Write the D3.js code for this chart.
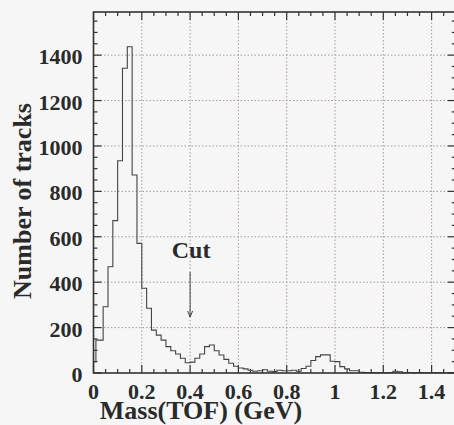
<!DOCTYPE html>
<html>
<head>
<meta charset="utf-8">
<script src="https://cdn.jsdelivr.net/npm/d3@7"></script>
<style>
  body { margin: 0; background: #f6f6f6; }
  svg { display: block; }
  text { font-family: "Liberation Serif", "DejaVu Serif", serif; font-weight: bold; fill: #2a2a2a; }
</style>
</head>
<body>
<div id="chart"></div>
<script>
// histogram of TOF mass, bins of 0.02 GeV (first one split at 0.01)
var binWidth = 0.02
var edges = [0, 0.01].concat(d3.range(2, 76).map(function(i) { return i * binWidth }))
var counts = [50, 145, 292, 468, 671, 935, 1342, 1437, 872, 571,
              373, 285, 189, 167, 145, 116, 98, 84, 65, 45,
              48, 65, 84, 116, 123, 98, 79, 60, 43, 30,
              22, 18, 12, 8, 10, 14, 8, 6, 12, 10,
              10, 12, 8, 20, 30, 55, 72, 80, 80, 52,
              50, 28, 18, 10, 10, 3, 2, 2, 1, 2,
              1, 2, 8, 5, 1, 2, 1, 2, 1, 1,
              2, 1, 1, 1, 1]

var xTicks = [0, 0.2, 0.4, 0.6, 0.8, 1, 1.2, 1.4]
var xTickLabels = ["0", "0.2", "0.4", "0.6", "0.8", "1", "1.2", "1.4"]
var yTicks = [0, 200, 400, 600, 800, 1000, 1200, 1400]
var yTickLabels = ["0", "200", "400", "600", "800", "1000", "1200", "1400"]

var cutValue = 0.4

var width = 454, height = 425
// plot frame (right edge runs just past the picture)
var pL = 93.5, pT = 12, pR = 455.75, pB = 373

var svg = d3.select("#chart").append("svg").attr("width", width).attr("height", height)

var x = d3.scaleLinear().domain([0, 1.5]).range([pL, pR])
var y = d3.scaleLinear().domain([0, 1590]).range([pB, pT])

var xMinor = d3.range(0, 1.5001, 0.05)
var yMinor = d3.range(0, 1590, 50)

// dotted grid
var grid = svg.append("g").attr("stroke", "#a89a9a").attr("stroke-width", 1).attr("stroke-dasharray", "1.5,2")
grid.selectAll("line.gx").data(xTicks.slice(1)).enter().append("line")
    .attr("x1", function(d) { return x(d) }).attr("x2", function(d) { return x(d) })
    .attr("y1", pT).attr("y2", pB)
grid.selectAll("line.gy").data(yTicks.slice(1)).enter().append("line")
    .attr("y1", function(d) { return y(d) }).attr("y2", function(d) { return y(d) })
    .attr("x1", pL).attr("x2", pR)

// inward ticks on all four sides
var ticks = svg.append("g").attr("stroke", "#333").attr("stroke-width", 1.2)
function isMajorX(d) { return xTicks.some(function(t) { return Math.abs(t - d) < 1e-6 }) }
function isMajorY(d) { return yTicks.some(function(t) { return Math.abs(t - d) < 1e-6 }) }
xMinor.forEach(function(d) {
    var len = isMajorX(d) ? 8 : 4
    ticks.append("line").attr("x1", x(d)).attr("x2", x(d)).attr("y1", pB).attr("y2", pB - len)
    ticks.append("line").attr("x1", x(d)).attr("x2", x(d)).attr("y1", pT).attr("y2", pT + len)
})
yMinor.forEach(function(d) {
    var len = isMajorY(d) ? 8 : 4
    ticks.append("line").attr("y1", y(d)).attr("y2", y(d)).attr("x1", pL).attr("x2", pL + len)
    ticks.append("line").attr("y1", y(d)).attr("y2", y(d)).attr("x1", pR).attr("x2", pR - len)
})

// histogram outline
var pts = [[edges[0], 0]]
counts.forEach(function(n, i) {
    pts.push([edges[i], n])
    pts.push([edges[i + 1], n])
})
var line = d3.line().x(function(d) { return x(d[0]) }).y(function(d) { return y(d[1]) })
svg.append("path").attr("d", line(pts)).attr("fill", "none")
    .attr("stroke", "#444").attr("stroke-width", 1.1)

// frame
svg.append("rect").attr("x", pL).attr("y", pT)
    .attr("width", pR - pL).attr("height", pB - pT)
    .attr("fill", "none").attr("stroke", "#333").attr("stroke-width", 1.6)

// tick labels
svg.selectAll("text.xl").data(xTicks).enter().append("text")
    .attr("x", function(d) { return x(d) }).attr("y", 399)
    .attr("text-anchor", "middle").attr("font-size", 22)
    .text(function(d, i) { return xTickLabels[i] })
svg.selectAll("text.yl").data(yTicks).enter().append("text")
    .attr("x", pL - 11).attr("y", function(d) { return y(d) + 9 })
    .attr("text-anchor", "end").attr("font-size", 22)
    .text(function(d, i) { return yTickLabels[i] })

// axis titles
svg.append("text").attr("x", 201).attr("y", 419).attr("text-anchor", "middle")
    .attr("font-size", 26).text("Mass(TOF) (GeV)")
svg.append("text").attr("transform", "translate(31,201) rotate(-90)").attr("text-anchor", "middle")
    .attr("font-size", 26).text("Number of tracks")

// cut marker
svg.append("text").attr("x", x(cutValue) + 1).attr("y", 258).attr("text-anchor", "middle")
    .attr("font-size", 24).text("Cut")
var arrow = svg.append("g").attr("stroke", "#444").attr("stroke-width", 1).attr("fill", "none")
arrow.append("line").attr("x1", x(cutValue)).attr("x2", x(cutValue)).attr("y1", 272).attr("y2", 317)
arrow.append("path").attr("d", d3.line()([[x(cutValue) - 2.5, 311], [x(cutValue), 317], [x(cutValue) + 2.5, 311]]))
</script>
</body>
</html>
